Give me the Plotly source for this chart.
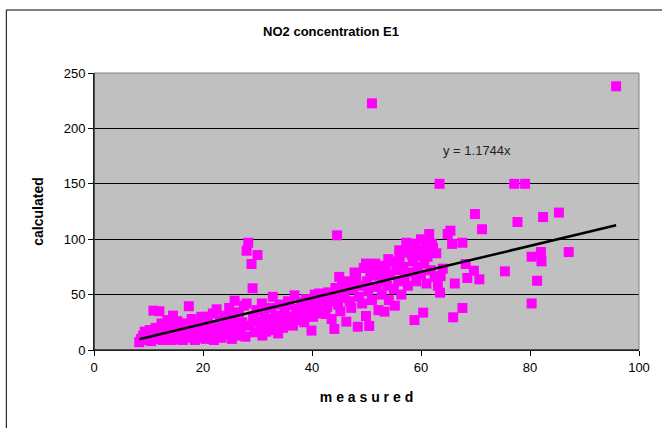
import plotly.graph_objects as go

measured = [
    8.3, 8.6, 9.0, 9.3, 9.6, 10.0, 10.2, 10.5, 10.9, 11.0, 11.3, 11.6, 12.0, 12.2, 12.4, 12.6,
    13.0, 13.2, 13.5, 13.8, 14.0, 14.3, 14.5, 14.8, 15.0, 15.3, 15.5, 15.8, 16.0, 16.3, 16.6,
    16.9, 17.2, 17.4, 17.6, 17.9, 18.2, 18.5, 18.8, 19.1, 19.4, 19.7, 20.0, 20.2,
    20.5, 20.6, 20.9, 21.2, 21.5, 21.8, 22.0, 22.3, 22.5, 22.8, 23.1, 23.4, 23.7, 24.0, 24.2,
    24.5, 24.8, 25.0, 25.3, 25.6, 25.8, 26.0, 26.3, 26.6, 26.9, 27.2, 27.5, 27.8, 28.0, 28.0,
    28.3, 28.5, 28.9, 29.1, 29.2, 29.5, 29.8, 30.0, 30.2, 30.5, 30.8, 30.9,
    31.3, 31.6, 31.9, 32.2, 32.5, 32.8, 33.0, 33.3, 33.6, 33.8, 34.1, 34.4, 34.7, 35.0, 35.3,
    35.6, 35.9, 36.2, 36.5, 36.8, 37.1, 37.4, 37.7, 38.0, 38.3, 38.6, 38.9, 39.2, 39.5, 39.9,
    40.2, 40.0,
    40.5, 40.8, 41.0, 41.3, 41.6, 42.0, 42.5, 42.8, 43.0, 43.3, 43.6, 44.1, 44.0, 44.3, 44.6,
    44.8, 45.0, 45.2, 45.5, 45.8, 46.0, 46.3, 46.6, 46.9, 47.2, 47.5, 47.8, 48.1, 48.4, 48.6,
    48.9, 49.2, 49.5, 49.9, 49.9, 50.1, 50.3,
    50.5, 50.7, 51.0, 51.0, 51.3, 51.6, 51.9, 52.2, 52.5, 52.8, 53.0, 53.3, 53.5, 53.8, 54.1,
    54.4, 54.7, 55.0, 55.2, 55.5, 55.8, 56.1, 56.4, 56.7, 57.0, 57.3, 57.6, 57.9, 58.2, 58.5,
    58.8, 58.8, 59.1, 59.4, 59.7, 60.0, 60.0,
    60.4, 60.6, 61.0, 61.2, 61.5, 61.8, 62.2, 62.5, 62.8, 63.1, 63.4, 63.5, 63.6, 64.0, 64.9,
    65.4, 65.7, 65.9, 66.2, 67.6, 67.6, 68.2, 68.5, 69.7, 69.9, 70.7, 71.2, 75.4, 77.1, 77.7,
    79.1, 80.3, 80.3, 81.3, 82.0, 82.1, 82.4, 85.3, 87.1, 95.8,
    46.0, 47.0, 48.0, 52.0, 53.2, 54.0, 55.5, 56.0, 57.5, 58.3, 59.0, 60.5, 61.0, 62.0,
]
calculated = [
    7, 10, 13, 16.5, 9, 12, 18, 8, 35.5, 14, 20, 10, 35, 16, 24, 9,
    13, 21, 27, 11, 17, 9, 31, 14, 22, 26, 10, 18, 13, 9, 24,
    15, 11, 39.5, 20, 28, 13, 9, 17, 23, 11, 30, 15, 20,
    10, 30, 25, 13, 18, 33, 9, 22, 36.7, 15, 27, 11, 20, 31, 14,
    24, 38, 17, 10, 29, 44.5, 21, 13, 34, 18, 25, 40, 12, 42, 89.6,
    96.8, 22, 77.6, 55.7, 30, 16, 36, 85.7, 26, 20, 42, 13,
    33, 16.5, 28, 22, 38, 48, 18, 31, 25, 15, 41, 28, 20, 35, 24,
    44, 40.6, 30, 22, 49.3, 37, 36, 27, 43, 32, 25, 46, 38, 30, 17.5,
    30, 44,
    50, 36, 42, 51, 33, 46, 32.5, 39, 52, 44, 28, 19, 48, 56, 103.5,
    41, 66, 35, 58, 47, 52, 25.6, 62, 44, 38, 55, 70, 66, 21, 48,
    58, 42, 74, 78, 30.7, 62, 53,
    21.7, 70, 222.6, 45, 67, 78, 57, 36, 72, 50, 63, 34.6, 76, 58, 45,
    68, 80, 55, 40, 72, 62, 84, 50, 75, 66, 96.8, 58, 88, 70, 80,
    27, 92, 62, 75, 85, 99.9, 68,
    33.7, 78, 60, 84.2, 104.7, 72, 92, 66, 87.3, 58, 150, 51.7, 66.8, 73.4, 104.7,
    107.7, 95.7, 29.5, 60, 96.8, 37.9, 77.6, 65, 71.6, 122.7, 63.8, 109, 71, 150, 115.5,
    150, 84.2, 42, 62.5, 88.4, 80, 120, 124, 88.4, 238,
    57, 60, 64, 75, 70, 82, 78, 90, 92, 86, 96, 90, 98, 96,
]

slope = 1.1744
trend_x = [min(measured), max(measured)]
trend_y = [slope * v for v in trend_x]

x_ticks = [0, 20, 40, 60, 80, 100]
y_ticks = [0, 50, 100, 150, 200, 250]

font = "Liberation Sans, Arial, sans-serif"

fig = go.Figure()
fig.add_trace(go.Scatter(
    x=measured, y=calculated, mode="markers",
    marker=dict(symbol="square", size=10, color="#FF00FF", line=dict(width=0)),
    showlegend=False, cliponaxis=False,
))
fig.add_trace(go.Scatter(
    x=trend_x, y=trend_y, mode="lines",
    line=dict(color="black", width=2.5), showlegend=False,
))

frame_x = -88 / 547
frame_y = 1 + 63 / 277

fig.update_layout(
    width=662, height=428,
    margin=dict(l=94, r=21, t=73, b=78),
    paper_bgcolor="white", plot_bgcolor="#C0C0C0",
    font=dict(family=font, size=13, color="black"),
    title=dict(text="<b>NO2 concentration E1</b>", x=0.5, xref="container",
               xanchor="center", y=1 - 31 / 428, yanchor="middle",
               font=dict(size=13, family=font)),
    xaxis=dict(range=[0, 100], tickvals=x_ticks, ticks="outside", ticklen=5,
               tickcolor="black", showline=True, linecolor="black", linewidth=1,
               showgrid=False, zeroline=False, mirror=False,
               title=dict(text="<b>m e a s u r e d</b>", standoff=18,
                          font=dict(size=14, family=font))),
    yaxis=dict(range=[0, 250], tickvals=y_ticks, ticks="outside", ticklen=5,
               tickcolor="black", showline=True, linecolor="black", linewidth=1,
               showgrid=True, gridcolor="black", gridwidth=1, zeroline=False,
               title=dict(text="<b>calculated</b>", standoff=16,
                          font=dict(size=14, family=font))),
    shapes=[
        dict(type="rect", xref="paper", yref="paper", x0=0, x1=1, y0=0, y1=1,
             line=dict(color="#808080", width=1), fillcolor="rgba(0,0,0,0)", layer="above"),
        dict(type="line", xref="paper", yref="paper", x0=0, x1=0, y0=0, y1=1,
             line=dict(color="black", width=1), layer="above"),
        dict(type="line", xref="paper", yref="paper", x0=0, x1=1, y0=0, y1=0,
             line=dict(color="black", width=1), layer="above"),
        dict(type="line", xref="paper", yref="paper", x0=frame_x, x1=frame_x,
             y0=-0.5, y1=frame_y, line=dict(color="black", width=1)),
        dict(type="line", xref="paper", yref="paper", x0=frame_x, x1=1.3,
             y0=frame_y, y1=frame_y, line=dict(color="black", width=1)),
    ],
    annotations=[
        dict(text="y = 1.1744x", x=70.3, y=180.5, xref="x", yref="y",
             showarrow=False, font=dict(size=13, family=font, color="#222222")),
    ],
)

fig.write_html("out.html", config={"displayModeBar": False},
               post_script="document.body.style.margin='0';document.body.style.padding='0';")
